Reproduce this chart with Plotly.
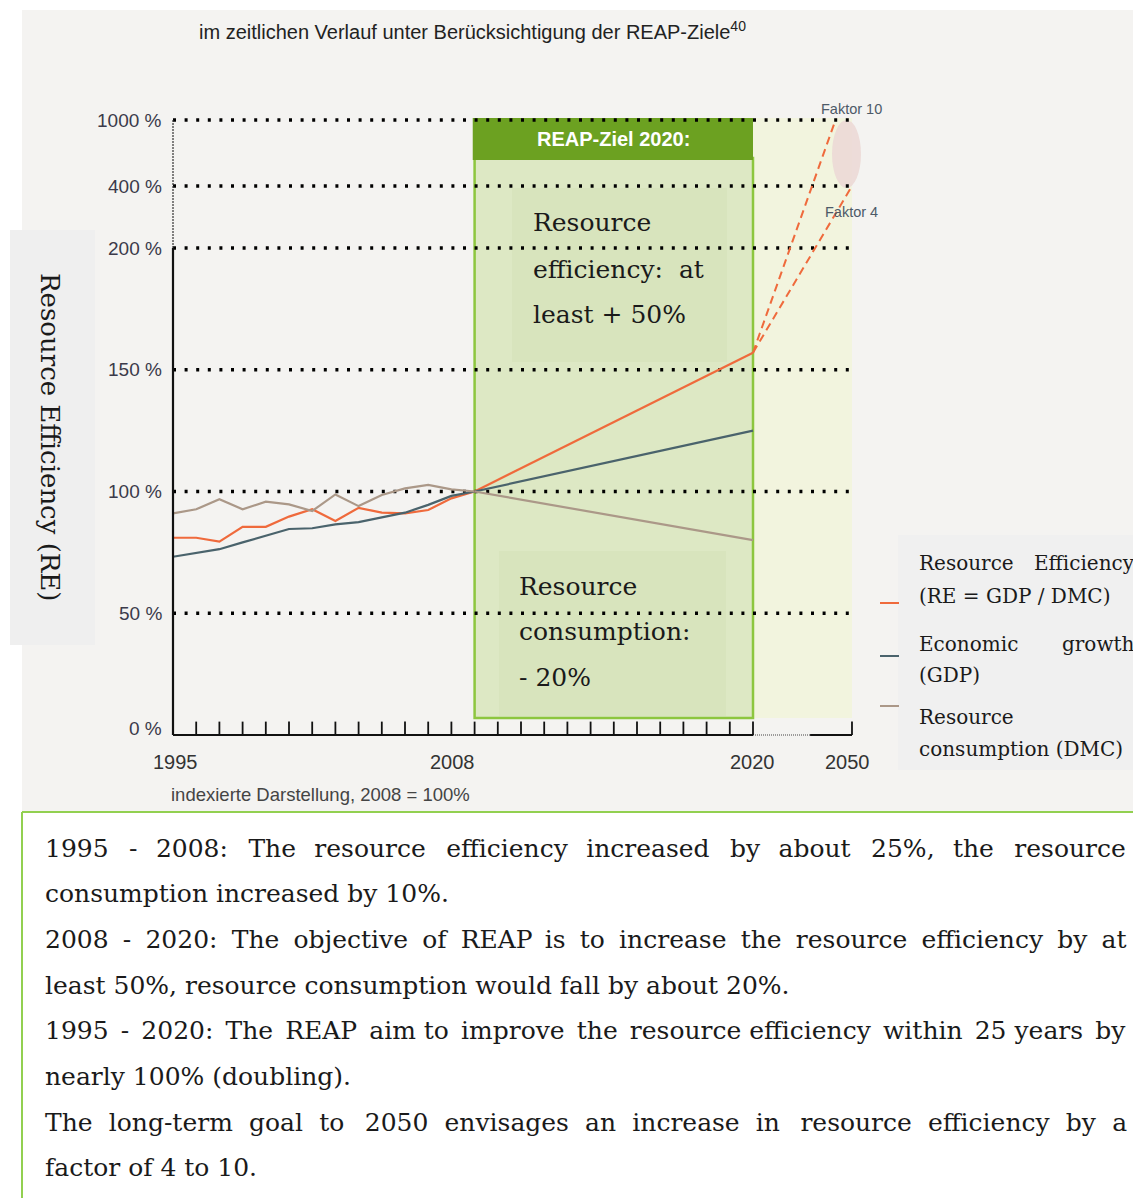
import numpy as np
import plotly.graph_objects as go

W, H = 1141, 1198
OFF = 8  # page body margin in the browser

# ---------------- data (index, 2008 = 100 %) ----------------
YEARS_HIST = list(range(1995, 2009))
RE_HIST = [81.0, 81.0, 79.4, 85.5, 85.5, 89.7, 92.7, 87.9, 93.3, 91.3, 91.0, 92.4, 97.2, 100.0]
GDP_HIST = [73.2, 74.6, 76.3, 79.1, 81.7, 84.6, 84.9, 86.5, 87.4, 89.2, 91.3, 94.5, 98.2, 100.0]
DMC_HIST = [91.0, 92.7, 96.8, 92.7, 95.8, 94.7, 92.0, 98.8, 94.0, 98.6, 101.3, 102.7, 100.9, 100.0]

TARGET_YEARS = [2008, 2020]
RE_TARGET = [100.0, 157.0]
GDP_TARGET = [100.0, 125.0]
DMC_TARGET = [100.0, 80.0]

FACTOR4_YEARS = [2020, 2050]
FACTOR4_VALUES = [157.0, 400.0]
FACTOR10_YEARS = [2020, 2045]
FACTOR10_VALUES = [157.0, 1000.0]

Y_TICKS = [0, 50, 100, 150, 200, 400, 1000]
Y_TICK_LABELS = ["0 %", "50 %", "100 %", "150 %", "200 %", "400 %", "1000 %"]
X_LABEL_YEARS = [1995, 2008, 2020, 2050]
X_LABELS = ["1995", "2008", "2020", "2050"]
TICK_YEARS = list(range(1996, 2021)) + [2050]

SERIES_NAMES = ["Resource Efficiency (RE = GDP / DMC)", "Economic growth (GDP)",
                "Resource consumption (DMC)"]
COLORS = ["#ef6a3c", "#4a636c", "#ab9888"]

# ---------------- broken scales (axis definition) ----------------
Y_SCALE_POS = [0, 1, 2, 3, 4, 4.509, 5.051]
X_SCALE_YEARS = [1995, 2020, 2050]
X_SCALE_POS = [1995, 2020, 2024.267]


def ymap(v):
    return np.interp(v, Y_TICKS, Y_SCALE_POS)


def xmap(y):
    return np.interp(y, X_SCALE_YEARS, X_SCALE_POS)


def X(p):  # screen pixel -> paper
    return (p - OFF) / W


def Y(p):
    return 1 - (p - OFF) / H


SANS = "Liberation Sans, Arial, sans-serif"
SERIF = "DejaVu Serif, serif"

fig = go.Figure()

# ---------------- lines ----------------
hist = [RE_HIST, GDP_HIST, DMC_HIST]
targ = [RE_TARGET, GDP_TARGET, DMC_TARGET]
for name, h, c in zip(SERIES_NAMES, hist, COLORS):
    fig.add_trace(go.Scatter(x=xmap(YEARS_HIST), y=ymap(h), mode="lines",
                             line=dict(color=c, width=2.2), name=name,
                             showlegend=False, hoverinfo="skip"))
for name, t, c in zip(SERIES_NAMES, targ, COLORS):
    fig.add_trace(go.Scatter(x=xmap(TARGET_YEARS), y=ymap(t), mode="lines",
                             line=dict(color=c, width=2.2), showlegend=False,
                             hoverinfo="skip"))
for yrs, vals in [(FACTOR10_YEARS, FACTOR10_VALUES), (FACTOR4_YEARS, FACTOR4_VALUES)]:
    fig.add_trace(go.Scatter(x=xmap(yrs), y=ymap(vals), mode="lines",
                             line=dict(color=COLORS[0], width=2, dash="8px,5px"),
                             showlegend=False, hoverinfo="skip"))

shapes = []


def rect_paper(x0, y0, x1, y1, fill, line=None):
    shapes.append(dict(type="rect", xref="paper", yref="paper", x0=X(x0), x1=X(x1),
                       y0=Y(y1), y1=Y(y0), fillcolor=fill,
                       line=dict(width=0) if line is None else line, layer="below"))


# backgrounds
rect_paper(22, 10, W + 20, 812, "#f4f3f1")
rect_paper(10, 230, 95, 645, "#efefef")
rect_paper(898, 535, W + 20, 770, "#f0f0f0")

# 2020-2050 area
shapes.append(dict(type="rect", xref="x", yref="paper", x0=xmap(2020), x1=xmap(2050),
                   y0=Y(718), y1=Y(118), fillcolor="#f2f4de", line=dict(width=0),
                   layer="below"))
# REAP box
shapes.append(dict(type="rect", xref="x", yref="paper", x0=xmap(2008), x1=xmap(2020),
                   y0=Y(718), y1=Y(158), fillcolor="#dde8c4",
                   line=dict(color="#8dc63f", width=2.5), layer="below"))

# dotted gridlines
for v in Y_TICKS[1:]:
    shapes.append(dict(type="line", xref="x", yref="y", x0=xmap(1995), x1=xmap(2050) - 0.05,
                       y0=ymap(v), y1=ymap(v),
                       line=dict(color="#000000", width=3.5, dash="3px,8.6px"), layer="below"))

# text boxes inside REAP box
rect_paper(512, 188, 727, 362, "#d8e4bd")
rect_paper(499, 551, 726, 716, "#d8e4bd")

# header
shapes.append(dict(type="rect", xref="x", yref="paper", x0=xmap(2008) - 0.08, x1=xmap(2020),
                   y0=Y(160), y1=Y(118), fillcolor="#6ca121", line=dict(width=0),
                   layer="below"))
# ellipse
shapes.append(dict(type="circle", xref="paper", yref="paper", x0=X(832), x1=X(861),
                   y0=Y(188), y1=Y(120), fillcolor="#ecd9d6", line=dict(width=0),
                   layer="below", opacity=0.9))

# axes
shapes.append(dict(type="line", xref="x", yref="y", x0=xmap(1995), x1=xmap(2020), y0=0, y1=0,
                   line=dict(color="#111", width=2.2)))
shapes.append(dict(type="line", xref="x", yref="y", x0=xmap(2020), x1=xmap(2037.3), y0=0, y1=0,
                   line=dict(color="#444", width=1.2, dash="1px,1px")))
shapes.append(dict(type="line", xref="x", yref="y", x0=xmap(2037.3), x1=xmap(2050), y0=0, y1=0,
                   line=dict(color="#111", width=2.2)))
shapes.append(dict(type="line", xref="x", yref="y", x0=xmap(1995), x1=xmap(1995), y0=0,
                   y1=ymap(200), line=dict(color="#111", width=2.2)))
shapes.append(dict(type="line", xref="x", yref="y", x0=xmap(1995), x1=xmap(1995),
                   y0=ymap(200), y1=ymap(1000), line=dict(color="#333", width=1.2, dash="2px,1px")))
for yr in TICK_YEARS:
    shapes.append(dict(type="line", xref="x", yref="y", x0=xmap(yr), x1=xmap(yr), y0=0,
                       y1=0.11, line=dict(color="#111", width=1.8)))

# legend keys
for c, py in zip(COLORS, [603, 656, 706]):
    shapes.append(dict(type="line", xref="paper", yref="paper", x0=X(880), x1=X(899),
                       y0=Y(py), y1=Y(py), line=dict(color=c, width=2)))

# bottom text box borders
shapes.append(dict(type="line", xref="paper", yref="paper", x0=X(22), x1=X(W + 20),
                   y0=Y(812), y1=Y(812), line=dict(color="#92d050", width=2)))
shapes.append(dict(type="line", xref="paper", yref="paper", x0=X(22), x1=X(22),
                   y0=Y(812), y1=Y(H + 20), line=dict(color="#92d050", width=2)))

annotations = []


def ann(text, x, y, size, color="#1a1a1a", family=SERIF, xanchor="left",
        xref="paper", yref="paper", **kw):
    annotations.append(dict(text=text, x=x, y=y, xref=xref, yref=yref, showarrow=False,
                            xanchor=xanchor, yanchor="middle",
                            font=dict(size=size, color=color, family=family), **kw))


# title
ann("im zeitlichen Verlauf unter Berücksichtigung der REAP-Ziele<sup>40</sup>",
    X(197), Y(30), 20, "#222", SANS)

# y tick labels
for v, lab in zip(Y_TICKS, Y_TICK_LABELS):
    ann(lab, xmap(1995), ymap(v), 19, "#3b3a4a", SANS, xanchor="right", xref="x", yref="y",
        xshift=-9, yshift=7 if v == 0 else 0)
# x tick labels
X_SHIFTS = [2, -22, -1, -4]
for yr, lab, sh in zip(X_LABEL_YEARS, X_LABELS, X_SHIFTS):
    ann(lab, xmap(yr), 0, 20, "#333", SANS, xanchor="center", xref="x", yref="y",
        xshift=sh, yshift=-27)
ann("indexierte Darstellung, 2008 = 100%", X(169), Y(794), 18.5, "#444", SANS)

# factor labels
ann("Faktor 10", xmap(2050), ymap(1000), 14.5, "#4d5a68", SANS, xanchor="center",
    xref="x", yref="y", yshift=11)
ann("Faktor 4", xmap(2050), ymap(400), 14.5, "#4d5a68", SANS, xanchor="center",
    xref="x", yref="y", yshift=-26)

# header text
ann("<b>REAP-Ziel 2020:</b>", X(613), Y(139), 20, "#ffffff", SANS, xanchor="center")

# box texts
for txt, py in [("Resource", 223), ("efficiency:  at", 269), ("least + 50%", 315)]:
    ann(txt, X(531), Y(py), 25, "#1a1a1a")
for txt, py in [("Resource", 586), ("consumption:", 631), ("- 20%", 677)]:
    ann(txt, X(517), Y(py), 25, "#1a1a1a")

# y title
ann("Resource Efficiency (RE)", X(50), Y(437), 26, "#1a1a1a", xanchor="center", textangle=90)

# legend texts
ann("Resource", X(917), Y(563), 20)
ann("Efficiency", X(1137), Y(563), 20, xanchor="right")
ann("(RE = GDP / DMC)", X(917), Y(596), 20)
ann("Economic", X(917), Y(644), 20)
ann("growth", X(1137), Y(644), 20, xanchor="right")
ann("(GDP)", X(917), Y(675), 20)
ann("Resource", X(917), Y(717), 20)
ann("consumption (DMC)", X(917), Y(749), 20)

# bottom paragraph (justified lines get wider word gaps)
BODY = [
    "1995 - 2008: The resource efficiency increased by about 25%, the resource",
    "consumption increased by 10%.",
    "2008 - 2020: The objective of REAP is to increase the resource efficiency by at",
    "least 50%, resource consumption would fall by about 20%.",
    "1995 - 2020: The REAP aim to improve the resource efficiency within 25 years by",
    "nearly 100% (doubling).",
    "The long-term goal to 2050 envisages an increase in resource efficiency by a",
    "factor of 4 to 10.",
]
EN, P3, P4, P6 = "\u2002", "\u2004", "\u2005", "\u2006"
GAP_FILL = [
    [EN, P4 + P6] * 5 + [EN],
    [],
    [P4] * 6 + [P6] + [P4] * 7,
    [],
    [P6, P6, P6, P6, P6, "", P6, P6, P6, "", P6, P6, "", P6],
    [],
    [P3, P3, P3, EN, P3, P3, P3, P3, EN, P3, P3, P3],
    [],
]


def justify(line, fills):
    words = line.split(" ")
    out = words[0]
    for i, w in enumerate(words[1:]):
        out += " " + (fills[i] if i < len(fills) else "") + w
    return out


for i, (line, fills) in enumerate(zip(BODY, GAP_FILL)):
    ann(justify(line, fills), X(43), Y(848 + i * 45.7), 25)

fig.update_layout(
    width=W, height=H, margin=dict(l=0, r=0, t=0, b=0),
    paper_bgcolor="#ffffff", plot_bgcolor="rgba(0,0,0,0)",
    xaxis=dict(visible=False, range=[1995 - (173 - OFF) / 23.2, 1995 + (W - 173 + OFF) / 23.2],
               fixedrange=True),
    yaxis=dict(visible=False, range=[-(H - 735 + OFF) / 121.75, (735 - OFF) / 121.75],
               fixedrange=True),
    shapes=shapes, annotations=annotations, showlegend=False,
)
fig.write_html("out.html")
